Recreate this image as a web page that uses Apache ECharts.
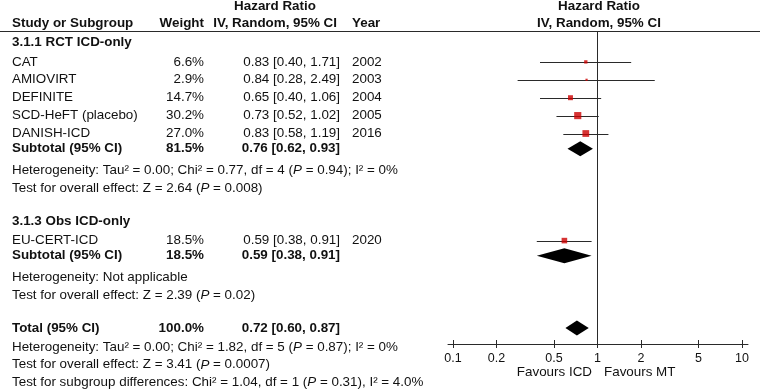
<!DOCTYPE html>
<html>
<head>
<meta charset="utf-8">
<script src="https://cdn.jsdelivr.net/npm/echarts@6/dist/echarts.min.js"></script>
<style>
  html, body { margin: 0; background: #fff; }
  #chart { width: 762px; height: 390px; }
</style>
</head>
<body>
<div id="chart"></div>
<script>
// ---- study rows ----
const studies = ['CAT', 'AMIOVIRT', 'DEFINITE', 'SCD-HeFT (placebo)', 'DANISH-ICD', 'EU-CERT-ICD'];
const studyGroup = [0, 0, 0, 0, 0, 1];
const weights = [6.6, 2.9, 14.7, 30.2, 27.0, 18.5];
const hr = [0.83, 0.84, 0.65, 0.73, 0.83, 0.59];
const ciLow = [0.40, 0.28, 0.40, 0.52, 0.58, 0.38];
const ciHigh = [1.71, 2.49, 1.06, 1.02, 1.19, 0.91];
const years = [2002, 2003, 2004, 2005, 2016, 2020];

// ---- subgroup pooled rows ----
const groups = ['3.1.1 RCT ICD-only', '3.1.3 Obs ICD-only'];
const groupWeight = [81.5, 18.5];
const groupHr = [0.76, 0.59];
const groupLow = [0.62, 0.38];
const groupHigh = [0.93, 0.91];
// |P| marks the italic P
const groupHet = [
  'Heterogeneity: Tau² = 0.00; Chi² = 0.77, df = 4 (|P| = 0.94); I² = 0%',
  'Heterogeneity: Not applicable'
];
const groupTest = [
  'Test for overall effect: Z = 2.64 (|P| = 0.008)',
  'Test for overall effect: Z = 2.39 (|P| = 0.02)'
];

// ---- overall ----
const totalWeight = 100.0;
const totalHr = 0.72;
const totalLow = 0.60;
const totalHigh = 0.87;
const totalNotes = [
  'Heterogeneity: Tau² = 0.00; Chi² = 1.82, df = 5 (|P| = 0.87); I² = 0%',
  'Test for overall effect: Z = 3.41 (|P| = 0.0007)',
  'Test for subgroup differences: Chi² = 1.04, df = 1 (|P| = 0.31), I² = 4.0%'
];

const ticks = [0.1, 0.2, 0.5, 1, 2, 5, 10];

// ---- style ----
const FONT = '"Liberation Sans", Arial, sans-serif';
const FS = 13.4;
const INK = '#111';
const LINE_C = '#2a2a2a';
const BOX_C = '#cc0000';

const log = v => Math.log10(v);
const fmt = v => v.toFixed(2);
const ci = (m, l, h) => `${fmt(m)} [${fmt(l)}, ${fmt(h)}]`;

// ---- row layout (vertical position of every table line, px) ----
function gapFor(kind, prev) {
  if (kind === 'section') return prev ? 33 : 42.3;
  if (kind === 'study') return prev === 'section' ? 19.6 : 17.9;
  if (kind === 'subtotal') return 15.2;
  if (kind === 'total') return 33;
  return prev === 'subtotal' ? 21.6 : prev === 'total' ? 19 : 17.7;
}
let cursor = 0, prevKind = null;
function nextRow(kind) {
  cursor += gapFor(kind, prevKind);
  prevKind = kind;
  return cursor;
}

const textItems = [];
const studyY = [];
const diamonds = []; // [hr, lo, hi, y]

// column anchors
const COL = { name: 12, weight: 204, ci: 340, year: 352, hdrCenter: 275, plotCenter: 599 };

textItems.push({ x: COL.hdrCenter, y: 6, text: 'Hazard Ratio', align: 'center', bold: true });
textItems.push({ x: COL.plotCenter, y: 6, text: 'Hazard Ratio', align: 'center', bold: true });
textItems.push({ x: COL.name, y: 23.3, text: 'Study or Subgroup', align: 'left', bold: true });
textItems.push({ x: COL.weight, y: 23.3, text: 'Weight', align: 'right', bold: true });
textItems.push({ x: COL.ci - 3, y: 23.3, text: 'IV, Random, 95% CI', align: 'right', bold: true });
textItems.push({ x: COL.year, y: 23.3, text: 'Year', align: 'left', bold: true });
textItems.push({ x: COL.plotCenter, y: 23.3, text: 'IV, Random, 95% CI', align: 'center', bold: true });

groups.forEach((g, gi) => {
  textItems.push({ x: COL.name, y: nextRow('section'), text: g, align: 'left', bold: true });
  studies.forEach((s, i) => {
    if (studyGroup[i] !== gi) return;
    const y = nextRow('study');
    studyY[i] = y;
    textItems.push({ x: COL.name, y, text: s, align: 'left' });
    textItems.push({ x: COL.weight, y, text: weights[i].toFixed(1) + '%', align: 'right' });
    textItems.push({ x: COL.ci, y, text: ci(hr[i], ciLow[i], ciHigh[i]), align: 'right' });
    textItems.push({ x: COL.year, y, text: String(years[i]), align: 'left' });
  });
  const ys = nextRow('subtotal');
  textItems.push({ x: COL.name, y: ys, text: 'Subtotal (95% CI)', align: 'left', bold: true });
  textItems.push({ x: COL.weight, y: ys, text: groupWeight[gi].toFixed(1) + '%', align: 'right', bold: true });
  textItems.push({ x: COL.ci, y: ys, text: ci(groupHr[gi], groupLow[gi], groupHigh[gi]), align: 'right', bold: true });
  diamonds.push([log(groupHr[gi]), log(groupLow[gi]), log(groupHigh[gi]), ys]);
  textItems.push({ x: COL.name, y: nextRow('note'), text: groupHet[gi], align: 'left' });
  textItems.push({ x: COL.name, y: nextRow('note'), text: groupTest[gi], align: 'left' });
});

const yt = nextRow('total');
textItems.push({ x: COL.name, y: yt, text: 'Total (95% CI)', align: 'left', bold: true });
textItems.push({ x: COL.weight, y: yt, text: totalWeight.toFixed(1) + '%', align: 'right', bold: true });
textItems.push({ x: COL.ci, y: yt, text: ci(totalHr, totalLow, totalHigh), align: 'right', bold: true });
diamonds.push([log(totalHr), log(totalLow), log(totalHigh), yt]);
totalNotes.forEach(n => textItems.push({ x: COL.name, y: nextRow('note'), text: n, align: 'left' }));

textItems.push({ x: 592, y: 372.5, text: 'Favours ICD', align: 'right' });
textItems.push({ x: 604, y: 372.5, text: 'Favours MT', align: 'left' });

const richText = s => s.split('|').map((seg, i) => (i % 2 ? `{i|${seg}}` : seg)).join('');

const chart = echarts.init(document.getElementById('chart'));
chart.setOption({
  animation: false,
  backgroundColor: '#fff',
  grid: [
    { left: 0, right: 0, top: 0, bottom: 0 },
    { left: 448, right: 14, top: 32, bottom: 46 }
  ],
  xAxis: [
    { gridIndex: 0, type: 'value', min: 0, max: 762, show: false },
    {
      gridIndex: 1, type: 'value', position: 'bottom', min: -1.0346, max: 1.0415,
      axisLine: { lineStyle: { color: LINE_C, width: 1 } },
      axisTick: { show: true, inside: false, length: 4, customValues: ticks.map(log), lineStyle: { color: LINE_C } },
      axisLabel: {
        customValues: ticks.map(log), margin: 8, color: INK, fontSize: 12.5, fontFamily: FONT,
        formatter: v => String(parseFloat(Math.pow(10, v).toPrecision(3)))
      },
      splitLine: { show: false }
    },
    {
      gridIndex: 1, type: 'value', position: 'bottom', min: -1.0346, max: 1.0415,
      axisLine: { show: false },
      axisTick: { show: true, inside: true, length: 4, customValues: ticks.map(log), lineStyle: { color: LINE_C } },
      axisLabel: { show: false },
      splitLine: { show: false }
    }
  ],
  yAxis: [
    { gridIndex: 0, type: 'value', min: 0, max: 390, inverse: true, show: false },
    { gridIndex: 1, type: 'value', min: 32, max: 344, inverse: true, show: false }
  ],
  graphic: [
    { type: 'line', shape: { x1: 0, y1: 31.5, x2: 760, y2: 31.5 }, style: { stroke: LINE_C, lineWidth: 1 } }
  ],
  series: [
    {
      // table text
      type: 'custom', xAxisIndex: 0, yAxisIndex: 0, silent: true,
      data: textItems.map(t => [t.x, t.y]),
      renderItem: (params, api) => {
        const t = textItems[params.dataIndex];
        const p = api.coord([t.x, t.y]);
        return {
          type: 'text', x: p[0], y: p[1],
          style: {
            text: richText(t.text), align: t.align, verticalAlign: 'middle',
            fill: INK, fontSize: FS, fontFamily: FONT, fontWeight: t.bold ? 'bold' : 'normal',
            rich: { i: { fontStyle: 'italic', fontSize: FS, fontFamily: FONT, fill: INK } }
          }
        };
      }
    },
    {
      // confidence intervals + line of no effect
      type: 'custom', xAxisIndex: 1, yAxisIndex: 1, silent: true,
      data: studies.map((_, i) => [log(ciLow[i]), log(ciHigh[i]), studyY[i]]),
      encode: { x: [0, 1], y: 2 },
      renderItem: (params, api) => {
        const a = api.coord([api.value(0), api.value(2)]);
        const b = api.coord([api.value(1), api.value(2)]);
        return {
          type: 'line',
          shape: { x1: a[0], y1: Math.round(a[1]) + 0.5, x2: b[0], y2: Math.round(b[1]) + 0.5 },
          style: { stroke: LINE_C, lineWidth: 1.2 }
        };
      },
      markLine: {
        silent: true, symbol: 'none', label: { show: false },
        lineStyle: { color: LINE_C, width: 1, type: 'solid' },
        data: [{ xAxis: 0 }]
      }
    },
    {
      // study estimates, box area ~ weight
      type: 'scatter', xAxisIndex: 1, yAxisIndex: 1, silent: true,
      symbol: 'rect',
      data: studies.map((_, i) => [log(hr[i]), studyY[i], weights[i]]),
      symbolSize: d => Math.sqrt(d[2]) * 1.3,
      itemStyle: { color: BOX_C },
      z: 3
    },
    {
      // pooled diamonds
      type: 'custom', xAxisIndex: 1, yAxisIndex: 1, silent: true,
      data: diamonds,
      encode: { x: [0, 1, 2], y: 3 },
      renderItem: (params, api) => {
        const y = api.value(3);
        const m = api.coord([api.value(0), y]);
        const l = api.coord([api.value(1), y]);
        const h = api.coord([api.value(2), y]);
        const half = 7.5;
        return {
          type: 'polygon',
          shape: { points: [[l[0], m[1]], [m[0], m[1] - half], [h[0], m[1]], [m[0], m[1] + half]] },
          style: { fill: '#000' }
        };
      },
      z: 3
    }
  ]
});
</script>
</body>
</html>
